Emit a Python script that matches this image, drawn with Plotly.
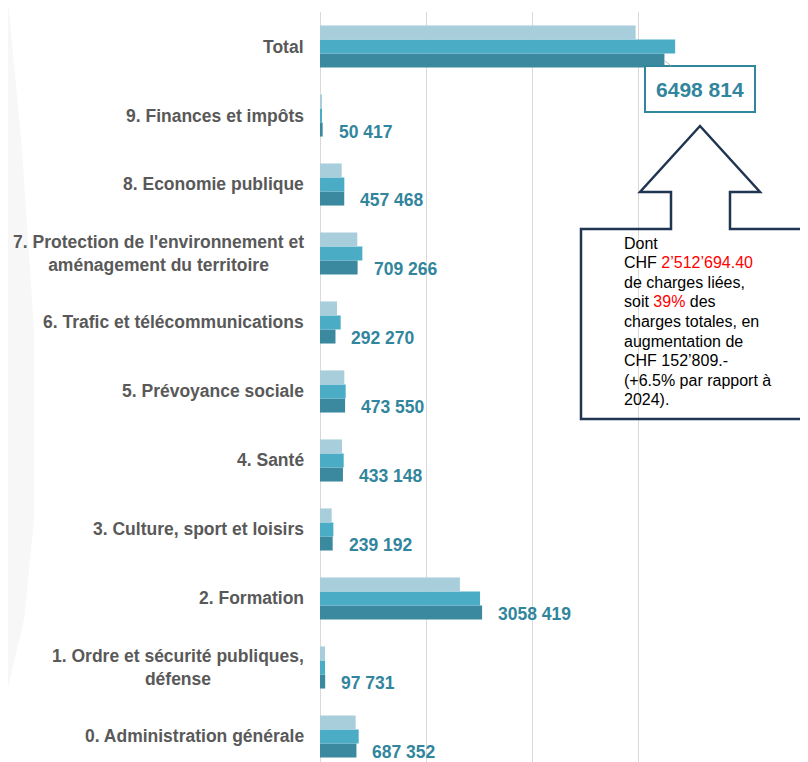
import plotly.graph_objects as go

# ---------------- data ----------------
categories = [
    "0. Administration générale",
    "1. Ordre et sécurité publiques,<br>défense",
    "2. Formation",
    "3. Culture, sport et loisirs",
    "4. Santé",
    "5. Prévoyance sociale",
    "6. Trafic et télécommunications",
    "7. Protection de l'environnement et<br>aménagement du territoire",
    "8. Economie publique",
    "9. Finances et impôts",
    "Total",
]
series_light = [673000, 94000, 2640000, 220000, 415000, 459000, 321000, 704000, 409000, 20000, 5955000]
series_medium = [730000, 95000, 3020000, 252000, 447000, 484000, 390000, 799000, 459000, 25000, 6701000]
series_dark = [687352, 97731, 3058419, 239192, 433148, 473550, 292270, 709266, 457468, 50417, 6498814]
value_labels = ["687 352", "97 731", "3058 419", "239 192", "433 148", "473 550",
                "292 270", "709 266", "457 468", "50 417", "6498 814"]

callout_lines = [
    "Dont",
    "CHF <span style='color:#FF0000'>2’512’694.40</span>",
    "de charges liées,",
    "soit <span style='color:#FF0000'>39%</span> des",
    "charges totales, en",
    "augmentation de",
    "CHF 152’809.-",
    "(+6.5% par rapport à",
    "2024).",
]

# ---------------- style ----------------
C_LIGHT = "#A8CEDC"
C_MED = "#4BACC6"
C_DARK = "#3B899F"
C_LABEL = "#31859C"
C_CAT = "#595959"
C_NAVY = "#1F3552"
FONT = "Liberation Sans, Arial, sans-serif"

OFF = 8  # page body margin
W, H = 808 - OFF, 762 - OFF
ML, MR, MT, MB = 320 - OFF, 64, 12 - OFF, 0
PW, PH = W - ML - MR, H - MT - MB


def px(x):
    """screen x -> paper"""
    return (x - OFF - ML) / PW


def py(y):
    """screen y -> paper"""
    return 1 - (y - OFF - MT) / PH


fig = go.Figure()
# plotly places the first trace at the bottom of each group for horizontal bars
for vals, col in [(series_dark, C_DARK), (series_medium, C_MED), (series_light, C_LIGHT)]:
    fig.add_trace(go.Bar(y=categories, x=vals, orientation="h", marker=dict(color=col, line=dict(width=0)),
                         hoverinfo="x+y"))

annotations = []
# category labels (centered multi-line)
for cat in categories:
    annotations.append(dict(xref="paper", x=0, xshift=-14, yref="y", y=cat, xanchor="right", yanchor="middle",
                            text=cat, align="center", showarrow=False,
                            font=dict(family=FONT, size=17.5, color=C_CAT, weight="bold")))
# value labels next to dark bars
for cat, v, lab in zip(categories[:-1], series_dark[:-1], value_labels[:-1]):
    annotations.append(dict(x=v, y=cat, xref="x", yref="y", xanchor="left", yanchor="middle",
                            xshift=14, yshift=-16, text=lab, showarrow=False,
                            font=dict(family=FONT, size=17.5, color=C_LABEL, weight="bold")))
# total label with box and leader line
annotations.append(dict(x=series_dark[-1], y=categories[-1], xref="x", yref="y", yshift=-14,
                        text=value_labels[-1], showarrow=True, arrowhead=0, arrowwidth=1,
                        arrowcolor="#BFBFBF", ax=36, ay=28, width=108, height=44,
                        bordercolor=C_LABEL, borderwidth=2, borderpad=0, bgcolor="white",
                        font=dict(family=FONT, size=21, color=C_LABEL, weight="bold")))
# callout text, one line each to control spacing
for i, line in enumerate(callout_lines):
    annotations.append(dict(xref="paper", yref="paper", x=px(622), y=py(243 + i * 19.6),
                            xanchor="left", yanchor="middle", text=line, align="left", showarrow=False,
                            font=dict(family=FONT, size=16, color="#000000")))

arrow_pts = [(700, 126), (760, 192), (730, 192), (730, 229), (812, 229), (812, 419),
             (581, 419), (581, 229), (671, 229), (671, 192), (640, 192)]
path = "M " + " L ".join(f"{px(a):.5f},{py(b):.5f}" for a, b in arrow_pts) + " Z"

shadow_pts = [(0, 0), (8, 0), (22, 150), (34, 330), (34, 520), (24, 620), (5, 700), (0, 720)]
shadow = "M " + " L ".join(f"{px(a):.5f},{py(b):.5f}" for a, b in shadow_pts) + " Z"

shapes = [
    dict(type="path", xref="paper", yref="paper", path=shadow, fillcolor="#F7F7F7",
         line=dict(width=0), layer="below"),
    dict(type="path", xref="paper", yref="paper", path=path, fillcolor="rgba(0,0,0,0)",
         line=dict(color=C_NAVY, width=2.5), layer="above"),
]

fig.update_layout(
    width=W, height=H,
    margin=dict(l=ML, r=MR, t=MT, b=MB, autoexpand=False),
    paper_bgcolor="white", plot_bgcolor="white",
    barmode="group", bargap=0.39, bargroupgap=0,
    showlegend=False,
    annotations=annotations,
    shapes=shapes,
    xaxis=dict(range=[0, 8000000], dtick=2000000, showgrid=True, gridcolor="#D9D9D9", gridwidth=1,
               showticklabels=False, zeroline=True, zerolinecolor="#D9D9D9", zerolinewidth=1,
               showline=False, fixedrange=True),
    yaxis=dict(type="category", categoryorder="array", categoryarray=categories,
               range=[-0.37, 10.5], showticklabels=False, showgrid=False, zeroline=False,
               showline=False),
    font=dict(family=FONT),
)

fig.write_html("out.html")
